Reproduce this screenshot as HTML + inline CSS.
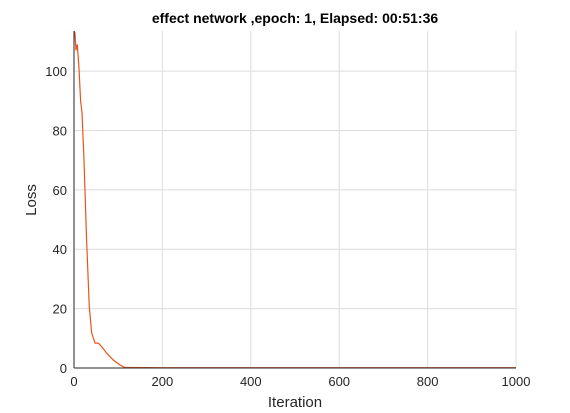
<!DOCTYPE html>
<html><head><meta charset="utf-8"><style>
body{margin:0;background:#fff;}
svg{display:block;font-family:"Liberation Sans",sans-serif;}
</style></head><body>
<svg id="chart" width="570" height="413">
<rect width="570" height="413" fill="#fff"/>
<text x="295" y="23" text-anchor="middle" font-size="14" font-weight="bold" fill="#000">effect network ,epoch: 1, Elapsed: 00:51:36</text>
<g id="grid"></g>
<g id="ticks"></g>
<path id="line" fill="none" stroke="#e8541c" stroke-width="1.2"/>
<line x1="74" y1="31" x2="74" y2="368" stroke="#262626"/>
<line x1="74" y1="368" x2="516" y2="368" stroke="#262626"/>
<text x="295" y="407" text-anchor="middle" font-size="15" fill="#262626">Iteration</text>
<text transform="translate(36,200) rotate(-90)" text-anchor="middle" font-size="15" fill="#262626">Loss</text>
</svg>
<script>
const iterations=[0,2,4.5,7.5,11,15,18,22.6,28.6,34.7,40,47.5,55,62.6,74,89,104,115,200,400,600,800,1000];
const losses=[113.5,113,107,109,101.5,90,86,70,43,20.5,11.8,8.4,8.4,7.2,5,2.7,1,0.2,0.1,0.1,0.1,0.1,0.1];
const xTicks=[0,200,400,600,800,1000];
const yTicks=[0,20,40,60,80,100];
const X0=74,X1=516,Y0=368,Y1=31,YMAX=113.5;
const sx=v=>X0+(X1-X0)*v/1000;
const sy=v=>Y0-(Y0-Y1)*Math.min(v,YMAX)/YMAX;
const ns="http://www.w3.org/2000/svg";
const grid=document.getElementById('grid'),tk=document.getElementById('ticks');
function mk(tag,a,p){const e=document.createElementNS(ns,tag);for(const k in a)e.setAttribute(k,a[k]);p.appendChild(e);return e;}
xTicks.forEach(v=>{
 const g=mk('line',{x1:sx(v),x2:sx(v),y1:Y1,y2:Y0,stroke:'#dcdcdc'},grid);
 
 
 const t=mk('text',{x:sx(v),y:386,'text-anchor':'middle','font-size':13,fill:'#262626'},tk);
 t.textContent=v;
 
 
});
yTicks.forEach(v=>{
 const g=mk('line',{x1:X0,x2:X1,y1:sy(v),y2:sy(v),stroke:'#dcdcdc'},grid);
 
 
 const t=mk('text',{x:67,y:sy(v)+5,'text-anchor':'end','font-size':13,fill:'#262626'},tk);
 t.textContent=v;
 
 
});
document.getElementById('line').setAttribute('d',iterations.map((v,i)=>(i?'L':'M')+sx(v).toFixed(1)+','+sy(losses[i]).toFixed(1)).join(''));
</script>
</body></html>
